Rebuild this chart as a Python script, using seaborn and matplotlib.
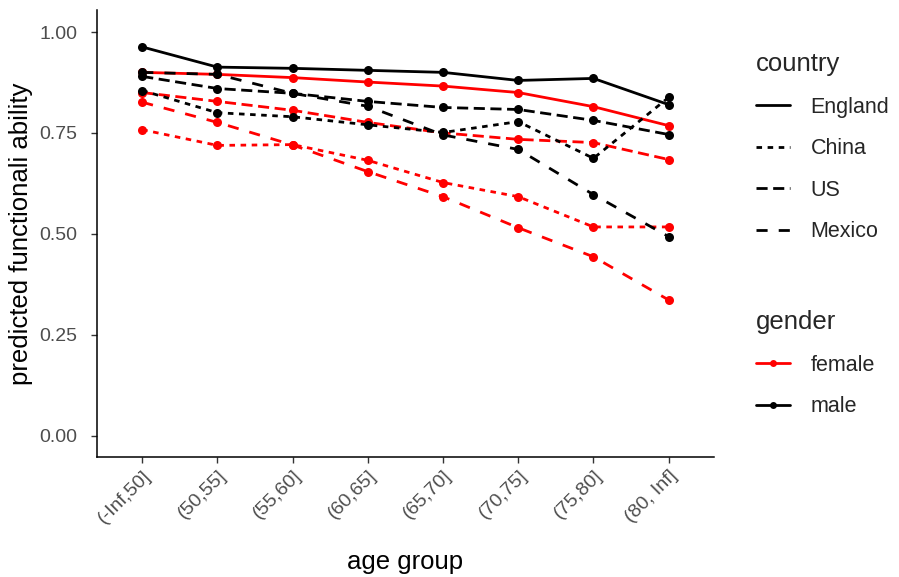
import pandas as pd
import numpy as np
import matplotlib.pyplot as plt
import seaborn as sns
from matplotlib.lines import Line2D

# values
age_groups = ["(-Inf,50]", "(50,55]", "(55,60]", "(60,65]",
              "(65,70]", "(70,75]", "(75,80]", "(80, Inf]"]
countries = ["England", "China", "US", "Mexico"]
genders = ["female", "male"]

england_female = [0.900, 0.895, 0.887, 0.876, 0.866, 0.850, 0.815, 0.768]
england_male = [0.963, 0.913, 0.910, 0.905, 0.900, 0.880, 0.885, 0.820]
china_female = [0.758, 0.719, 0.721, 0.682, 0.627, 0.592, 0.517, 0.517]
china_male = [0.855, 0.800, 0.790, 0.770, 0.751, 0.778, 0.687, 0.838]
us_female = [0.850, 0.828, 0.806, 0.776, 0.750, 0.734, 0.726, 0.684]
us_male = [0.890, 0.860, 0.848, 0.828, 0.813, 0.808, 0.781, 0.746]
mexico_female = [0.826, 0.776, 0.720, 0.654, 0.592, 0.515, 0.443, 0.336]
mexico_male = [0.900, 0.895, 0.848, 0.816, 0.745, 0.709, 0.597, 0.493]

series = {
    ("England", "female"): england_female,
    ("England", "male"): england_male,
    ("China", "female"): china_female,
    ("China", "male"): china_male,
    ("US", "female"): us_female,
    ("US", "male"): us_male,
    ("Mexico", "female"): mexico_female,
    ("Mexico", "male"): mexico_male,
}

rows = []
for (country, gender), vals in series.items():
    for age, v in zip(age_groups, vals):
        rows.append({"age group": age, "value": v,
                     "country": country, "gender": gender})
data = pd.DataFrame(rows)

sns.set_style("white")
plt.rcParams['font.family'] = ['Liberation Sans', 'DejaVu Sans']

colors = {"female": "#FF0000", "male": "#000000"}
dashes = {"England": "", "China": (2, 2), "US": (4, 2), "Mexico": (4, 4)}
markers = {c: "o" for c in countries}
lw = 2.0

fig = plt.figure(figsize=(8.99, 5.77), dpi=100)
ax = fig.add_axes([0.108, 0.208, 0.686, 0.775])

sns.lineplot(data=data, x="age group", y="value", hue="gender",
             style="country", hue_order=genders, style_order=countries,
             palette=colors, dashes=dashes, markers=markers, sort=False,
             linewidth=lw, markersize=6.5, markeredgewidth=0,
             legend=False, ax=ax)

ax.set_xlim(-0.6, 7.6)
ax.set_ylim(-0.053, 1.055)
ax.set_yticks([0, 0.25, 0.5, 0.75, 1.0])
ax.set_yticklabels(["0.00", "0.25", "0.50", "0.75", "1.00"])
ax.set_xticks(range(len(age_groups)))
ax.set_xticklabels(age_groups, rotation=45, ha="right", rotation_mode="anchor")

for s in ["top", "right"]:
    ax.spines[s].set_visible(False)
for s in ["left", "bottom"]:
    ax.spines[s].set_color("black")
    ax.spines[s].set_linewidth(1.1)
ax.tick_params(axis="both", colors="#333333", labelcolor="#4D4D4D",
               labelsize=14, length=4, width=1, direction="out",
               left=True, bottom=True)
ax.tick_params(axis="y", pad=10)
ax.set_xlabel("age group", fontsize=18.5, color="black", labelpad=17)
ax.set_ylabel("predicted functionali ability", fontsize=18.5,
              color="black", labelpad=5)

# two legends: country (line type) and gender (colour)
country_handles = []
for c in countries:
    if dashes[c]:
        h = Line2D([], [], color="black", linewidth=lw, dashes=dashes[c])
    else:
        h = Line2D([], [], color="black", linewidth=lw, linestyle="-")
    country_handles.append(h)
leg1 = fig.legend(country_handles, countries, title="country",
                  loc="upper left", bbox_to_anchor=(0.819, 0.943),
                  frameon=False, fontsize=15.5, title_fontsize=18.5,
                  handlelength=1.6, labelspacing=0.95, handletextpad=0.95,
                  alignment="left")
gender_handles = [Line2D([], [], color=colors[g], linewidth=lw,
                         marker="o", markersize=5, markeredgewidth=0)
                  for g in genders]
leg2 = fig.legend(gender_handles, genders, title="gender",
                  loc="upper left", bbox_to_anchor=(0.819, 0.496),
                  frameon=False, fontsize=15.5, title_fontsize=18.5,
                  handlelength=1.6, labelspacing=0.95, handletextpad=0.95,
                  alignment="left")

plt.savefig("out.png", dpi=100)
